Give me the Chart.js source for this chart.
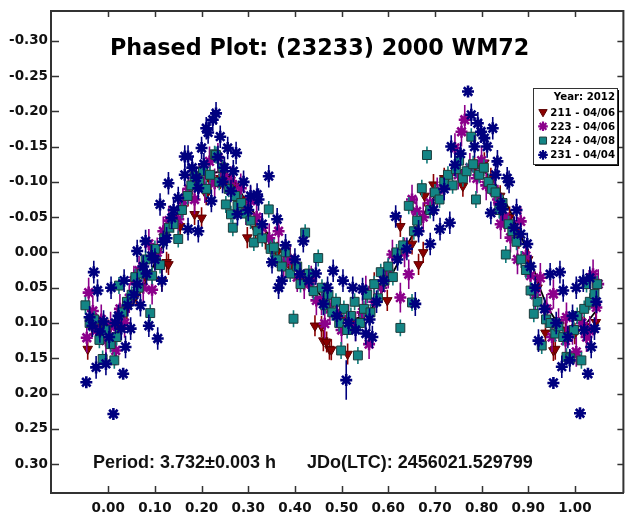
<!DOCTYPE html>
<html>
<head>
<meta charset="utf-8">
<title>Phased Plot (23233) 2000 WM72</title>
<script src="https://cdn.jsdelivr.net/npm/chart.js@4.4.1/dist/chart.umd.min.js"></script>
<style>
  html, body { margin: 0; padding: 0; background: #fff; }
  #wrap { position: relative; width: 632px; height: 514px; }
</style>
</head>
<body>
<div id="wrap"><canvas id="phaseChart" width="632" height="514"></canvas></div>
<script>
// ---- data ----------------------------------------------------------
const xTicks = [0.00, 0.10, 0.20, 0.30, 0.40, 0.50, 0.60, 0.70, 0.80, 0.90, 1.00];
const yTicks = [-0.30, -0.25, -0.20, -0.15, -0.10, -0.05, 0.00, 0.05, 0.10, 0.15, 0.20, 0.25, 0.30];

const legendTitle = 'Year: 2012';
const seriesLabels = ['211 - 04/06', '223 - 04/06', '224 - 04/08', '231 - 04/04'];
const seriesErr = [0.015, 0.021, 0.012, 0.016];   // default half error bar per session

// [phase, mag] or [phase, mag, err]
const s211 = [
  [-0.044,0.137],[-0.035,0.105],[-0.020,0.115],[0.000,0.110],[0.020,0.100],[0.040,0.080],[0.060,0.060],
  [0.080,0.035],[0.100,0.010],[0.115,0.040],[0.125,0.014],[0.129,0.017],[0.154,-0.037],[0.171,-0.080],
  [0.185,-0.054],[0.200,-0.049],[0.210,-0.082],[0.220,-0.100],[0.240,-0.105],[0.255,-0.100],[0.270,-0.094],
  [0.285,-0.075],[0.298,-0.021],[0.316,-0.033],[0.337,-0.019],[0.362,0.000],[0.390,0.020],[0.420,0.040],
  [0.443,0.104],[0.457,0.105],[0.461,0.125],[0.468,0.127],[0.474,0.137],[0.478,0.138],[0.500,0.095],
  [0.513,0.144],[0.525,0.100],[0.545,0.090],[0.570,0.043],[0.598,0.068],[0.626,-0.037],[0.651,-0.012],
  [0.665,0.017],[0.675,0.000],[0.678,-0.080],[0.697,-0.096],[0.720,-0.105],[0.760,-0.094],[0.785,-0.120],
  [0.799,-0.122],[0.806,-0.127],[0.820,-0.105],[0.840,-0.080],[0.860,-0.050],[0.880,-0.020],[0.900,0.010],
  [0.920,0.050],[0.937,0.114],[0.954,0.139],[0.958,0.137],[0.980,0.110],[1.000,0.115],[1.020,0.105],[1.045,0.099]
];
const s223 = [
  [-0.046,0.121],[-0.042,0.057],[-0.033,0.083],[-0.025,0.110],[-0.015,0.095],[-0.005,0.125],[0.005,0.105],
  [0.016,0.139],[0.025,0.080],[0.035,0.100],[0.045,0.065],[0.055,0.040],[0.066,0.026],[0.075,0.050],
  [0.087,-0.012],[0.094,0.053],[0.105,0.000],[0.118,-0.030],[0.130,-0.045],[0.150,-0.047],[0.160,-0.070],
  [0.172,-0.090],[0.185,-0.075],[0.195,-0.105],[0.207,-0.091],[0.217,-0.129],[0.228,-0.098],[0.235,-0.134],
  [0.248,-0.110],[0.263,-0.101],[0.275,-0.080],[0.284,-0.091],[0.295,-0.060],[0.305,-0.073],[0.318,-0.050],
  [0.330,-0.035],[0.345,-0.020],[0.365,-0.030],[0.376,0.014],[0.390,0.010],[0.405,0.035],[0.420,0.045],
  [0.435,0.040],[0.446,0.068],[0.457,0.068],[0.464,0.101],[0.475,0.080],[0.490,0.085],[0.500,0.110],
  [0.515,0.095],[0.530,0.105],[0.545,0.085],[0.552,0.054],[0.559,0.130],[0.570,0.070],[0.585,0.050],
  [0.600,0.030],[0.609,0.003],[0.626,0.064],[0.635,0.000],[0.644,0.031],[0.651,-0.075],[0.661,-0.058],
  [0.675,-0.050],[0.690,-0.070],[0.705,-0.085],[0.720,-0.095],[0.743,-0.148],[0.750,-0.110],[0.757,-0.171],
  [0.764,-0.188],[0.775,-0.120],[0.790,-0.105],[0.800,-0.130],[0.810,-0.095],[0.827,-0.087],[0.835,-0.075],
  [0.841,-0.040],[0.850,-0.050],[0.862,-0.021],[0.870,-0.030],[0.877,0.010],[0.884,-0.044],[0.895,0.005],
  [0.905,0.033],[0.915,0.060],[0.926,0.036],[0.940,0.080],[0.951,0.120],[0.954,0.059],[0.965,0.100],
  [0.980,0.125],[0.982,0.092],[0.995,0.110],[1.003,0.141],[1.015,0.100],[1.025,0.120],[1.032,0.111],
  [1.039,0.031],[1.046,0.078],[1.050,0.045]
];
const s224 = [
  [-0.049,0.075],[-0.040,0.100],[-0.030,0.095],[-0.019,0.124],[-0.012,0.151],[-0.005,0.110],[0.005,0.130],
  [0.013,0.153],[0.018,0.120],[0.023,0.047],[0.030,0.085],[0.040,0.070],[0.050,0.060],[0.058,0.035],
  [0.065,0.050],[0.072,0.030],[0.080,0.010],[0.090,0.086],[0.094,0.033],[0.100,-0.005],[0.111,0.018],
  [0.120,-0.020],[0.130,-0.035],[0.140,-0.040],[0.150,-0.019],[0.158,-0.060],[0.170,-0.080],[0.178,-0.095],
  [0.185,-0.108],[0.195,-0.100],[0.203,-0.115],[0.210,-0.090],[0.218,-0.110],[0.228,-0.139],[0.231,-0.138],
  [0.238,-0.100],[0.245,-0.120],[0.252,-0.068],[0.258,-0.090],[0.263,-0.054],[0.267,-0.035],[0.272,-0.080],
  [0.277,-0.066],[0.285,-0.070],[0.295,-0.055],[0.305,-0.045],[0.312,-0.014],[0.320,-0.030],[0.330,-0.020],
  [0.344,-0.061],[0.348,-0.005],[0.355,-0.007],[0.362,0.010],[0.372,0.020],[0.380,0.000],[0.390,0.030],
  [0.397,0.094],[0.405,0.020],[0.412,0.045],[0.422,-0.028],[0.430,0.030],[0.440,0.055],[0.450,0.008],
  [0.458,0.050],[0.465,0.075],[0.472,0.060],[0.480,0.085],[0.488,0.070],[0.495,0.100],[0.499,0.139],
  [0.505,0.080],[0.512,0.110],[0.520,0.090],[0.528,0.070],[0.535,0.146],[0.540,0.100],[0.548,0.080],
  [0.555,0.060],[0.562,0.085],[0.570,0.045],[0.578,0.065],[0.584,0.028],[0.592,0.040],[0.600,0.020],
  [0.610,0.035],[0.618,0.000],[0.626,0.107],[0.632,-0.010],[0.644,-0.066],[0.651,0.071],[0.655,-0.030],
  [0.662,-0.045],[0.672,-0.091],[0.683,-0.138],[0.690,-0.060],[0.700,-0.085],[0.710,-0.075],[0.720,-0.100],
  [0.728,-0.110],[0.738,-0.095],[0.745,-0.118],[0.752,-0.130],[0.760,-0.105],[0.768,-0.115],[0.778,-0.164],
  [0.782,-0.125],[0.788,-0.075],[0.795,-0.110],[0.805,-0.120],[0.815,-0.100],[0.822,-0.090],[0.830,-0.085],
  [0.838,-0.060],[0.845,-0.070],[0.852,0.003],[0.858,-0.040],[0.866,-0.030],[0.875,-0.015],[0.885,0.010],
  [0.895,0.025],[0.905,0.054],[0.912,0.087],[0.920,0.070],[0.929,0.132],[0.938,0.095],[0.948,0.100],
  [0.958,0.115],[0.965,0.105],[0.975,0.120],[0.982,0.148],[0.990,0.150],[0.998,0.110],[1.005,0.090],
  [1.014,0.153],[1.020,0.080],[1.025,0.045],[1.032,0.070],[1.042,0.059],[1.048,0.045]
];
const s231 = [
  [-0.047,0.184,0],[-0.040,0.092],[-0.034,0.104],[-0.031,0.028],[-0.026,0.163],[-0.023,0.054],[-0.018,0.112],
  [-0.010,0.098],[-0.005,0.158],[0.002,0.120],[0.006,0.050],[0.011,0.229,0],[0.015,0.100],[0.022,0.090],
  [0.028,0.108],[0.032,0.172,0],[0.034,0.040],[0.037,0.134],[0.042,0.075],[0.048,0.108],[0.055,0.060],
  [0.062,-0.002],[0.062,0.045],[0.069,0.075],[0.075,0.020],[0.080,-0.016],[0.082,0.030],[0.087,0.104],
  [0.093,0.005],[0.100,0.010],[0.106,0.122],[0.111,-0.068],[0.115,0.040],[0.118,-0.015],[0.125,-0.020],
  [0.129,-0.098],[0.136,-0.049],[0.140,-0.060],[0.150,-0.077],[0.164,-0.110],[0.164,-0.136],[0.171,-0.136],
  [0.171,-0.033],[0.180,-0.120],[0.189,-0.106],[0.193,-0.091],[0.193,-0.030],[0.200,-0.148],[0.205,-0.125],
  [0.210,-0.176],[0.214,-0.170],[0.221,-0.073],[0.224,-0.188],[0.231,-0.197],[0.235,-0.135],[0.240,-0.164],
  [0.245,-0.100],[0.249,-0.120],[0.256,-0.148],[0.263,-0.087],[0.268,-0.115],[0.274,-0.141],[0.277,-0.054],
  [0.290,-0.100],[0.300,-0.060],[0.305,-0.080],[0.319,-0.082],[0.322,-0.075],[0.330,-0.040],[0.344,-0.108],
  [0.351,0.014],[0.362,-0.047],[0.365,0.050],[0.372,0.040],[0.380,-0.010],[0.400,0.010],[0.411,0.031],
  [0.418,-0.016],[0.430,0.040],[0.445,0.030],[0.461,0.073],[0.470,0.050],[0.482,0.026],[0.490,0.090],
  [0.503,0.040],[0.510,0.181,0.028],[0.515,0.100],[0.524,0.050],[0.530,0.110],[0.545,0.052],[0.552,0.115],
  [0.560,0.095],[0.566,0.120],[0.575,0.070],[0.590,0.040],[0.616,-0.051],[0.620,0.010],[0.640,-0.005],
  [0.658,0.073,0.017],[0.665,-0.030],[0.690,-0.012],[0.697,-0.060],[0.711,-0.033],[0.720,-0.090],
  [0.732,-0.042],[0.735,-0.150],[0.743,-0.124],[0.755,-0.140],[0.771,-0.228,0],[0.778,-0.195],[0.785,-0.150],
  [0.792,-0.183],[0.799,-0.171],[0.806,-0.162],[0.812,-0.150],[0.820,-0.056],[0.824,-0.176],[0.830,-0.110],
  [0.834,-0.129],[0.841,-0.068],[0.845,-0.061],[0.855,-0.105],[0.859,-0.100],[0.870,-0.035],[0.875,-0.060],
  [0.884,-0.026],[0.898,-0.012],[0.905,0.020],[0.915,0.050],[0.922,0.125],[0.935,0.080],[0.947,0.031],
  [0.954,0.185,0],[0.960,0.100],[0.968,0.028],[0.972,0.162],[0.975,0.054],[0.985,0.120],[0.989,0.153],
  [0.995,0.090],[1.003,0.050],[1.011,0.228,0],[1.018,0.040],[1.020,0.110],[1.028,0.172,0],[1.032,0.036],
  [1.035,0.134],[1.042,0.108],[1.046,0.070]
];

// Fourier fit, sampled every 0.05 in phase
const fitPhase = [-0.05, 0.00, 0.05, 0.10, 0.15, 0.20, 0.25, 0.30, 0.35, 0.40, 0.45, 0.50,
                  0.55, 0.60, 0.65, 0.70, 0.75, 0.80, 0.85, 0.90, 0.95, 1.00, 1.05];
const fitMag = [0.097, 0.108, 0.076, 0.015, -0.056, -0.102, -0.112, -0.068, -0.019, 0.022, 0.057, 0.090,
                0.088, 0.040, -0.022, -0.080, -0.114, -0.117, -0.073, 0.002, 0.087, 0.112, 0.080];

// ---- styles ----------------------------------------------------------
const TICK_FONT = { family: 'DejaVu Sans', weight: 'bold', size: 13.5 };
const styles = [
  { pointStyle: 'triangle', rotation: 180, radius: 5.5, fill: '#8b0000', stroke: '#5a0000', width: 1, err: '#8b0000' },
  { pointStyle: 'star', rotation: 0, radius: 6, fill: '#8b008b', stroke: '#8b008b', width: 2.6, err: '#8b008b' },
  { pointStyle: 'rect', rotation: 0, radius: 6.3, fill: '#138585', stroke: '#1d3b3b', width: 1, err: '#0f7a7a' },
  { pointStyle: 'star', rotation: 0, radius: 6, fill: '#00007f', stroke: '#00007f', width: 2.6, err: '#00007f' }
];

function toPoints(list, err) {
  return list.map(p => ({ x: p[0], y: p[1], e: p.length > 2 ? p[2] : err }));
}

const pointSets = [s211, s223, s224, s231];
const datasets = pointSets.map((list, i) => ({
  label: seriesLabels[i],
  data: toPoints(list, seriesErr[i]),
  pointStyle: styles[i].pointStyle,
  rotation: styles[i].rotation,
  pointRadius: styles[i].radius,
  backgroundColor: styles[i].fill,
  borderColor: styles[i].stroke,
  borderWidth: styles[i].width,
  errColor: styles[i].err,
  order: 4 - i
}));

datasets.push({
  label: 'fit',
  type: 'line',
  data: fitPhase.map((x, i) => ({ x: x, y: fitMag[i] })),
  borderColor: '#000',
  borderWidth: 1.8,
  pointRadius: 0,
  tension: 0.4,
  fill: false,
  order: 10
});

// vertical error bars, drawn just before each session's markers
const errorBars = {
  id: 'errorBars',
  beforeDatasetDraw(chart, args) {
    const ds = chart.data.datasets[args.index];
    if (!ds.errColor) return;
    const { ctx, chartArea, scales } = chart;
    ctx.save();
    ctx.beginPath();
    ctx.rect(chartArea.left, chartArea.top, chartArea.right - chartArea.left, chartArea.bottom - chartArea.top);
    ctx.clip();
    ctx.strokeStyle = ds.errColor;
    ctx.lineWidth = 1.6;
    ds.data.forEach(p => {
      if (!p.e) return;
      const x = scales.x.getPixelForValue(p.x);
      ctx.beginPath();
      ctx.moveTo(x, scales.y.getPixelForValue(p.y - p.e));
      ctx.lineTo(x, scales.y.getPixelForValue(p.y + p.e));
      ctx.stroke();
    });
    ctx.restore();
  }
};

// frame, inward tick marks, title, footer text and legend box
const decorations = {
  id: 'decorations',
  afterDraw(chart) {
    const { ctx, chartArea: a, scales } = chart;
    ctx.save();
    ctx.strokeStyle = '#333';
    ctx.lineWidth = 2;
    ctx.beginPath();
    ctx.moveTo(a.left, a.top); ctx.lineTo(a.right, a.top); ctx.lineTo(a.right, a.bottom);
    ctx.stroke();

    ctx.lineWidth = 1.5;
    ctx.beginPath();
    xTicks.forEach(v => {
      const x = Math.round(scales.x.getPixelForValue(v)) + 0.5;
      ctx.moveTo(x, a.bottom); ctx.lineTo(x, a.bottom - 7);
      ctx.moveTo(x, a.top); ctx.lineTo(x, a.top + 6);
    });
    yTicks.forEach(v => {
      const y = Math.round(scales.y.getPixelForValue(v)) + 0.5;
      ctx.moveTo(a.left, y); ctx.lineTo(a.left + 8, y);
      ctx.moveTo(a.right, y); ctx.lineTo(a.right - 6, y);
    });
    ctx.stroke();

    ctx.fillStyle = '#000';
    ctx.textBaseline = 'alphabetic';
    ctx.textAlign = 'left';
    ctx.font = 'bold 22.3px "DejaVu Sans"';
    ctx.fillText('Phased Plot: (23233) 2000 WM72', 110, 55);

    ctx.fillStyle = '#111';
    ctx.font = 'bold 18px "Liberation Sans"';
    ctx.fillText('Period: 3.732\u00b10.003 h', 93, 468);
    ctx.fillText('JDo(LTC): 2456021.529799', 307, 468);

    // legend
    const bx = 533, by = 88, bw = 84, bh = 76;
    ctx.fillStyle = '#000';
    ctx.fillRect(bx + 2, by + 2, bw, bh);
    ctx.fillStyle = '#fff';
    ctx.fillRect(bx, by, bw, bh);
    ctx.strokeStyle = '#333';
    ctx.lineWidth = 1;
    ctx.strokeRect(bx + 0.5, by + 0.5, bw, bh);

    ctx.font = 'bold 10.2px "DejaVu Sans"';
    ctx.textAlign = 'right';
    ctx.fillStyle = '#000';
    ctx.fillText(legendTitle, 615, 100);
    seriesLabels.forEach((label, i) => {
      const base = 115.5 + i * 14.3;
      const st = styles[i];
      ctx.fillStyle = '#000';
      ctx.fillText(label, 615, base);
      ctx.fillStyle = st.fill;
      ctx.strokeStyle = st.stroke;
      ctx.lineWidth = st.pointStyle === 'star' ? 2.2 : 1;
      Chart.helpers.drawPoint(ctx, {
        pointStyle: st.pointStyle,
        rotation: st.rotation,
        radius: st.pointStyle === 'rect' ? 5 : 4.8,
        borderWidth: ctx.lineWidth
      }, 543, base - 3.5);
    });
    ctx.restore();
  }
};

new Chart(document.getElementById('phaseChart'), {
  type: 'scatter',
  data: { datasets: datasets },
  plugins: [errorBars, decorations],
  options: {
    responsive: false,
    animation: false,
    devicePixelRatio: 1,
    layout: { padding: { top: 9, right: 1, left: 0, bottom: 0 } },
    plugins: { legend: { display: false }, tooltip: { enabled: false } },
    scales: {
      x: {
        type: 'linear',
        min: -0.1227,
        max: 1.104,
        grid: { display: false, drawTicks: false },
        border: { display: true, color: '#333', width: 2 },
        afterBuildTicks: s => { s.ticks = xTicks.map(v => ({ value: v })); },
        afterFit: s => { s.height = 21; },
        ticks: {
          font: TICK_FONT, color: '#111', padding: 7, maxRotation: 0, autoSkip: false,
          callback: v => v.toFixed(2)
        }
      },
      y: {
        type: 'linear',
        reverse: true,
        min: -0.342,
        max: 0.341,
        grid: { display: false, drawTicks: false },
        border: { display: true, color: '#333', width: 2 },
        afterBuildTicks: s => { s.ticks = yTicks.map(v => ({ value: v })); },
        afterFit: s => { s.width = 51; },
        ticks: {
          font: TICK_FONT, color: '#111', padding: 3, autoSkip: false,
          callback: v => v.toFixed(2)
        }
      }
    }
  }
});
</script>
</body>
</html>
